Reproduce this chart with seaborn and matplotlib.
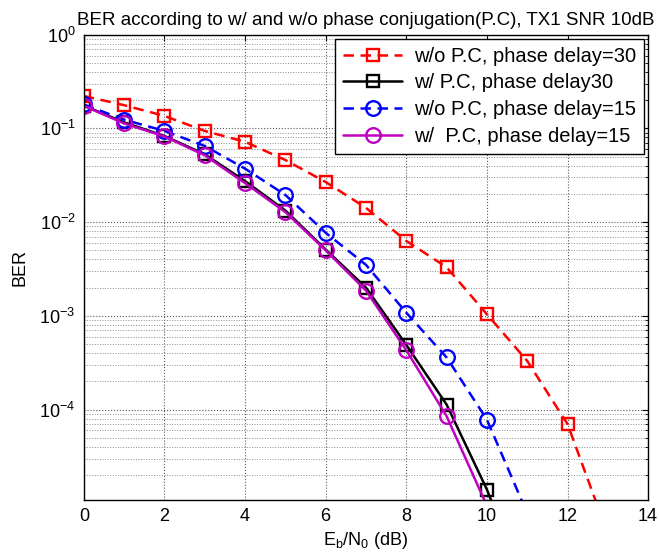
import numpy as np
import pandas as pd
import seaborn as sns
import matplotlib.pyplot as plt
from matplotlib.ticker import LogLocator, FixedLocator, LogFormatterMathtext, NullFormatter

# Eb/N0 (dB) and BER for each curve
snr_red = [0, 1, 2, 3, 4, 5, 6, 7, 8, 9, 10, 11, 12, 13]
ber_red = [0.222, 0.177, 0.136, 0.094, 0.072, 0.046, 0.0268, 0.0142, 0.0063, 0.0033, 0.00104, 0.00033, 7.0e-5, 4.7e-6]
snr_black = [0, 1, 2, 3, 4, 5, 6, 7, 8, 9, 10, 11]
ber_black = [0.175, 0.116, 0.083, 0.053, 0.0274, 0.0133, 0.0051, 0.0020, 0.00049, 0.000113, 1.4e-5, 1.1e-6]
snr_blue = [0, 1, 2, 3, 4, 5, 6, 7, 8, 9, 10, 11]
ber_blue = [0.18, 0.124, 0.094, 0.065, 0.0372, 0.0195, 0.0077, 0.0035, 0.00108, 0.00036, 7.8e-5, 7.8e-6]
snr_mag = [0, 1, 2, 3, 4, 5, 6, 7, 8, 9, 10]
ber_mag = [0.174, 0.113, 0.082, 0.0516, 0.0261, 0.0128, 0.0050, 0.00186, 0.00043, 8.5e-5, 9.4e-6]

labels = ['w/o P.C, phase delay=30', 'w/ P.C, phase delay30',
          'w/o P.C, phase delay=15', 'w/  P.C, phase delay=15']

sns.set_style("white")
plt.rcParams['font.family'] = ['Liberation Sans', 'DejaVu Sans']
plt.rcParams['mathtext.default'] = 'regular'
for k in ['text.color', 'axes.labelcolor', 'xtick.color', 'ytick.color']:
    plt.rcParams[k] = 'black'

YMIN, YMAX = 1.08e-5, 1.0

fig = plt.figure(figsize=(6.6, 5.6), dpi=100)
ax = fig.add_axes([0.127, 0.107, 0.855, 0.831])

series = [
    (snr_red, ber_red, labels[0], '#ff0000', (4.2, 2.6), 's', 8.5),
    (snr_black, ber_black, labels[1], '#000000', '', 's', 8.5),
    (snr_blue, ber_blue, labels[2], '#0000ff', (4.2, 2.6), 'o', 10.5),
    (snr_mag, ber_mag, labels[3], '#bf00bf', '', 'o', 10.5),
]

for x, y, lab, col, dash, mk, ms in series:
    df = pd.DataFrame({'snr': x, 'ber': y})
    visible = [YMIN <= v <= YMAX for v in y]
    sns.lineplot(data=df, x='snr', y='ber', ax=ax, color=col, label=lab,
                 linewidth=1.8, marker=mk, markersize=ms, markerfacecolor='none',
                 markeredgecolor=col, markeredgewidth=1.7, markevery=visible)
    if dash:
        ax.lines[-1].set_dashes(dash)

ax.set_yscale('log')
ax.set_xlim(0, 14)
ax.set_ylim(YMIN, YMAX)
ax.set_xticks(range(0, 15, 2))
ax.yaxis.set_major_locator(FixedLocator([1e-4, 1e-3, 1e-2, 1e-1, 1e0]))
ax.yaxis.set_major_formatter(LogFormatterMathtext())
ax.yaxis.set_minor_locator(LogLocator(base=10, subs=np.arange(2, 10), numticks=20))
ax.yaxis.set_minor_formatter(NullFormatter())

ax.grid(True, which='major', linestyle=':', color='0.35', linewidth=0.8)
ax.grid(True, which='minor', axis='y', linestyle=':', color='0.55', linewidth=0.7)
ax.tick_params(which='both', direction='in', top=True, right=True, labelsize=13, pad=6)
ax.tick_params(which='major', length=4, width=0.8)
ax.tick_params(which='minor', length=2.5, width=0.6)
for s in ax.spines.values():
    s.set_color('black')
    s.set_linewidth(1.0)

ax.set_xlabel('E$_b$/N$_0$ (dB)', fontsize=13, labelpad=3)
ax.set_ylabel('BER', fontsize=13, labelpad=8)
ax.set_title('BER according to w/ and w/o phase conjugation(P.C), TX1 SNR 10dB', fontsize=13.5, pad=7)

leg = ax.legend(loc='upper right', fontsize=14.5, frameon=True, fancybox=False,
                edgecolor='black', framealpha=1, handlelength=2.9,
                borderaxespad=0.2, labelspacing=0.38, borderpad=0.4, handletextpad=0.6)
leg.get_frame().set_linewidth(1.0)

fig.savefig('out.png', dpi=100)
